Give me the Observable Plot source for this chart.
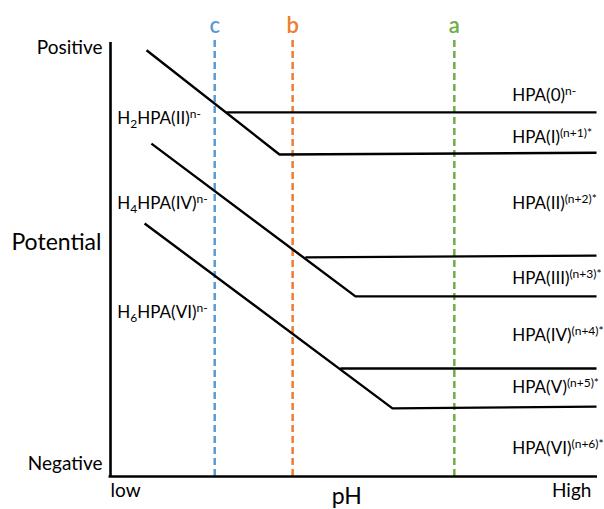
<!DOCTYPE html>
<html>
<head>
<meta charset="utf-8">
<script src="https://cdn.jsdelivr.net/npm/d3@7"></script>
<script src="https://cdn.jsdelivr.net/npm/@observablehq/plot@0.6"></script>
<style>
  html, body { margin: 0; padding: 0; background: #fff; }
</style>
</head>
<body>
<div id="chart"></div>
<script>
// ---- Data (pH on a 0–100 schematic scale, potential on a 0–100 schematic scale) ----
const line1 = [[7.4, 98.2], [34.7, 74.2], [99.8, 74.6]];
const line2 = [[8.4, 76.7], [50.3, 41.5], [99.8, 41.5]];
const line3 = [[7.0, 58.3], [57.9, 15.7], [99.8, 16.1]];
const shelf1 = [[23.8, 83.9], [99.8, 83.9]];
const shelf2 = [[40.0, 50.5], [99.8, 50.9]];
const shelf3 = [[47.2, 24.9], [99.8, 24.9]];

const markerNames = ["c", "b", "a"];
const markerPH = [21.4, 37.4, 70.6];
const markerColors = ["#5B9BD5", "#ED7D31", "#70AD47"];

const rightLabels = ["HPA(0)^{n-}", "HPA(I)^{(n+1)*}", "HPA(II)^{(n+2)*}", "HPA(III)^{(n+3)*}",
                     "HPA(IV)^{(n+4)*}", "HPA(V)^{(n+5)*}", "HPA(VI)^{(n+6)*}"];
const rightLabelE = [87.8, 78.1, 62.9, 45.6, 32.5, 20.5, 6.5];
const leftLabels = ["H_{2}HPA(II)^{n-}", "H_{4}HPA(IV)^{n-}", "H_{6}HPA(VI)^{n-}"];
const leftLabelE = [82.5, 62.9, 37.8];

const xTickValues = [3.1, 94.7];
const xTickLabels = ["low", "High"];
const yTickValues = [3.0, 98.8];
const yTickLabels = ["Negative", "Positive"];

// ---- Build ----
const FONT = "Lato, 'Open Sans', sans-serif";
const toPts = (arr, id) => arr.map(([x, y]) => ({x, y, id}));
const solid = [
  ...toPts(line1, "l1"), ...toPts(line2, "l2"), ...toPts(line3, "l3"),
  ...toPts(shelf1, "s1"), ...toPts(shelf2, "s2"), ...toPts(shelf3, "s3")
];
const markers = markerNames.map((n, i) => ({name: n, x: markerPH[i], color: markerColors[i]}));
const right = rightLabels.map((t, i) => ({t, y: rightLabelE[i]}));
const left = leftLabels.map((t, i) => ({t, y: leftLabelE[i]}));
const xFmt = new Map(xTickValues.map((v, i) => [v, xTickLabels[i]]));
const yFmt = new Map(yTickValues.map((v, i) => [v, yTickLabels[i]]));

const chart = Plot.plot({
  width: 604,
  height: 509,
  marginLeft: 110,
  marginRight: 7,
  marginTop: 42,
  marginBottom: 33,
  style: {fontFamily: FONT, fontSize: "19px", color: "#000", background: "#fff", overflow: "visible"},
  x: {domain: [0, 100], ticks: xTickValues, tickFormat: d => xFmt.get(d), tickSize: 0, tickPadding: 7, label: null},
  y: {domain: [0, 100], ticks: yTickValues, tickFormat: d => yFmt.get(d), tickSize: 0, tickPadding: 8, label: null},
  marks: [
    Plot.ruleX(markers, {x: "x", y1: 0, y2: 100.5, stroke: "color", strokeWidth: 2.5, strokeDasharray: "7,4"}),
    Plot.text(markers, {x: "x", y: 103.9, text: "name", fill: "color", fontSize: 22, fontWeight: "600"}),
    Plot.line(solid, {x: "x", y: "y", z: "id", stroke: "#000", strokeWidth: 2.4, strokeLinejoin: "miter", strokeLinecap: "butt"}),
    Plot.ruleX([0], {y1: 0, y2: 100, stroke: "#000", strokeWidth: 2.6}),
    Plot.ruleY([0], {x1: -0.3, x2: 100, stroke: "#000", strokeWidth: 2.6}),
    Plot.text(right, {x: 82.5, y: "y", text: "t", textAnchor: "start", fontSize: 17}),
    Plot.text(left, {x: 1.4, y: "y", text: "t", textAnchor: "start", fontSize: 17}),
    Plot.text(["Potential"], {x: -11.1, y: 53.9, text: d => d, fontSize: 23}),
    Plot.text(["pH"], {x: 48.5, y: -4.6, text: d => d, fontSize: 23})
  ]
});

// Rich text: subscripts and superscripts as tspans
d3.select(chart).selectAll("text").each(function () {
  const s = this.textContent;
  if (!/[\^_]\{/.test(s)) return;
  const re = /_\{([^}]*)\}|\^\{([^}]*)\}|([^_^]+)/g;
  const segs = [];
  let m;
  while ((m = re.exec(s))) {
    if (m[1] != null) segs.push({type: "sub", s: m[1]});
    else if (m[2] != null) segs.push({type: "sup", s: m[2]});
    else segs.push({type: "n", s: m[3]});
  }
  this.textContent = "";
  let off = 0;
  for (const seg of segs) {
    const ts = document.createElementNS("http://www.w3.org/2000/svg", "tspan");
    const target = seg.type === "sup" ? -6 : seg.type === "sub" ? 4 : 0;
    ts.setAttribute("dy", target - off);
    off = target;
    if (seg.type !== "n") ts.setAttribute("font-size", 12);
    ts.textContent = seg.s;
    this.appendChild(ts);
  }
});

document.getElementById("chart").appendChild(chart);
</script>
</body>
</html>
